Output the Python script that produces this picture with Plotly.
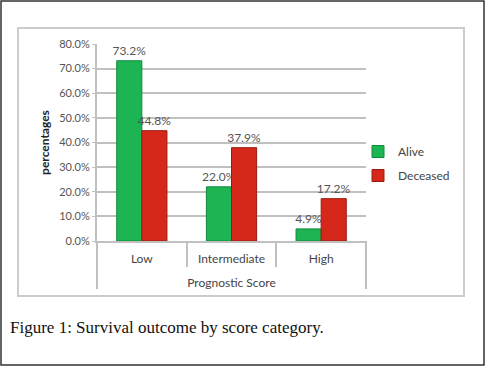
import plotly.graph_objects as go

categories = ["Low", "Intermediate", "High"]
alive = [0.732, 0.220, 0.049]
deceased = [0.448, 0.379, 0.172]
series_names = ["Alive", "Deceased"]
caption = "Figure 1: Survival outcome by score category."

W, H = 487, 367
def px(x): return x / W
def py(y): return 1 - y / H

fig = go.Figure()
fig.add_trace(go.Bar(x=categories, y=alive, name=series_names[0], legendgroup="a",
                     marker=dict(color="#1db553", line=dict(color="#0f8a3c", width=1)),
                     texttemplate="%{y:.1%}", textposition="outside", constraintext="none",
                     textfont=dict(family="Lato", size=12, color="#555555"),
                     cliponaxis=False))
fig.add_trace(go.Bar(x=categories, y=deceased, name=series_names[1], legendgroup="b",
                     marker=dict(color="#d6281a", line=dict(color="#9a1a10", width=1)),
                     texttemplate="%{y:.1%}", textposition="outside", constraintext="none",
                     textfont=dict(family="Lato", size=12, color="#555555"),
                     cliponaxis=False))

grid = "#c0c0c0"
fig.update_layout(
    width=W, height=H,
    margin=dict(l=0, r=0, t=0, b=0, autoexpand=False),
    paper_bgcolor="white", plot_bgcolor="white",
    barmode="group", bargap=0.44, bargroupgap=0,
    font=dict(family="Lato", size=11, color="#555555"),
    showlegend=True,
    legend=dict(x=px(358), y=py(137), xanchor="left", yanchor="top",
                font=dict(family="Lato", size=12, color="#444444"),
                tracegroupgap=5, itemwidth=30, bgcolor="rgba(0,0,0,0)"),
    xaxis=dict(domain=[px(97), px(366)], showgrid=False, automargin=False,
               showline=True, linecolor=grid, linewidth=2,
               ticks="outside", tickson="boundaries", ticklen=24, tickcolor=grid, tickwidth=2,
               ticklabelstandoff=6,
               tickfont=dict(family="Lato", size=12, color="#444444"),
               title=dict(text="Prognostic Score", standoff=13,
                          font=dict(family="Lato", size=12, color="#444444"))),
    yaxis=dict(domain=[py(241), py(44)], range=[0, 0.8], dtick=0.1, tickformat=".1%",
               automargin=False,
               showgrid=True, gridcolor=grid, gridwidth=2,
               showline=True, linecolor=grid, linewidth=2,
               ticks="outside", ticklen=3, tickcolor=grid, zeroline=False,
               tickfont=dict(family="Lato", size=11, color="#555555"),
               title=dict(text="<b>percentages</b>", standoff=7,
                          font=dict(family="Lato", size=12, color="#222222"))),
)

shapes = []
# outer frame
shapes.append(dict(type="rect", xref="paper", yref="paper", x0=px(1), y0=py(365), x1=px(484), y1=py(1),
                   line=dict(color="#333333", width=1.5)))
# inner chart box
shapes.append(dict(type="rect", xref="paper", yref="paper", x0=px(18), y0=py(296), x1=px(464), y1=py(28),
                   line=dict(color="#cccccc", width=2)))
# category axis outer dividers
for xd in (0, 1):
    shapes.append(dict(type="line", xref="x domain", yref="paper", x0=xd, x1=xd,
                       y0=py(241), y1=py(289), line=dict(color=grid, width=2)))
fig.update_layout(shapes=shapes)

fig.add_annotation(text=caption, xref="paper", yref="paper", x=px(8), y=py(327),
                   xanchor="left", yanchor="middle", showarrow=False,
                   font=dict(family="Liberation Serif", size=17, color="#111111"))

fig.write_html("out.html", config={"displayModeBar": False},
               post_script="document.body.style.margin='0px';document.body.style.overflow='hidden';")
